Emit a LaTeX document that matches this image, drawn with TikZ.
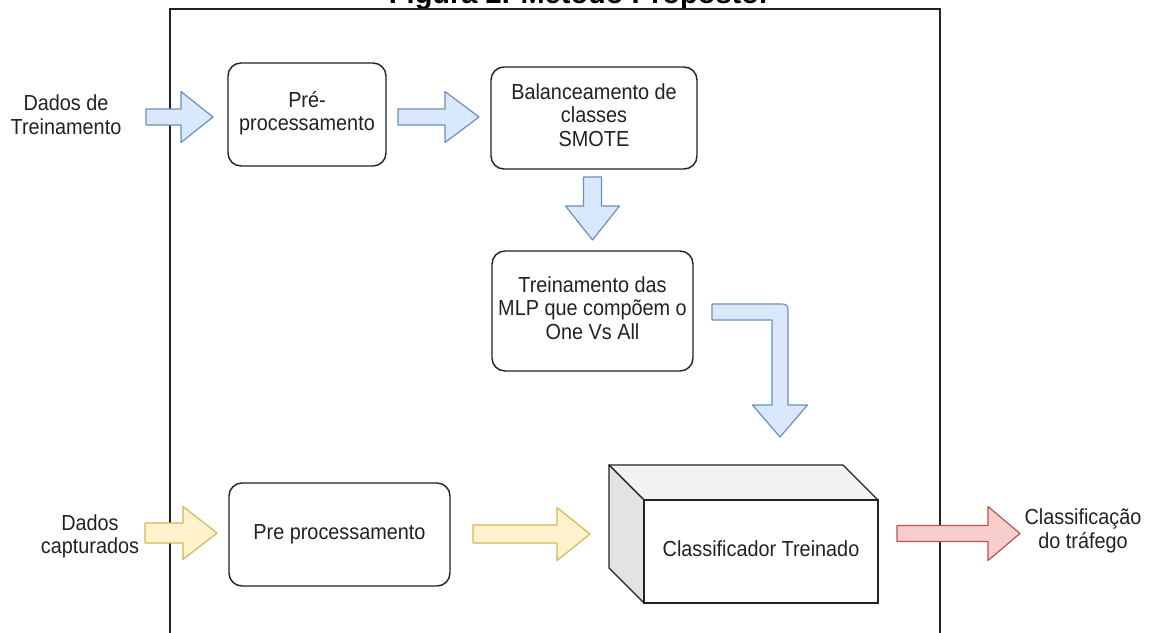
\documentclass[tikz,border=0pt]{standalone}
\usepackage{fontspec}
\setmainfont{Liberation Sans}
\newfontfamily\diagfont[FakeStretch=0.91]{Liberation Sans}
\definecolor{bluefill}{HTML}{DAE8FC}
\definecolor{bluedraw}{HTML}{6C8EBF}
\definecolor{yellowfill}{HTML}{FFF2CC}
\definecolor{yellowdraw}{HTML}{D6B656}
\definecolor{redfill}{HTML}{F8CECC}
\definecolor{reddraw}{HTML}{B85450}
\definecolor{inkgray}{HTML}{222222}
\definecolor{cubetop}{HTML}{F2F2F2}
\definecolor{cubeside}{HTML}{E3E3E3}
% horizontal block arrow: style, tail x, head-base x, tip x, centre y, shaft half, head half
\newcommand\harrowshape[7]{%
  \draw[#1] (#2,#5-#6) -- (#3,#5-#6) -- (#3,#5-#7) -- (#4,#5)
    -- (#3,#5+#7) -- (#3,#5+#6) -- (#2,#5+#6) -- cycle;}
% vertical block arrow: style, tail y, head-base y, tip y, centre x, shaft half, head half
\newcommand\varrowshape[7]{%
  \draw[#1] (#5-#6,#2) -- (#5-#6,#3) -- (#5-#7,#3) -- (#5,#4)
    -- (#5+#7,#3) -- (#5+#6,#3) -- (#5+#6,#2) -- cycle;}
\begin{document}
\begin{tikzpicture}[x=1pt,y=-1pt,
  txt/.style={font=\diagfont\fontsize{21.8}{23.5}\selectfont, text=inkgray, align=center, inner sep=0pt},
  procbox/.style={txt, draw=inkgray, line width=1.4pt, rounded corners=13pt, fill=white},
  bluearrow/.style={draw=bluedraw, fill=bluefill, line width=1.2pt, line join=round},
  yellowarrow/.style={draw=yellowdraw, fill=yellowfill, line width=1.2pt, line join=round},
  redarrow/.style={draw=reddraw, fill=redfill, line width=1.2pt, line join=round},
  cubeline/.style={draw=inkgray, line width=1.4pt, line join=round}]
\useasboundingbox (0,0) rectangle (1153,632);
\clip (0,0) rectangle (1153,632);

% caption, cut by the top edge
\node[font=\bfseries\fontsize{29}{30}\selectfont, text=black, anchor=base, inner sep=0pt] (title) at (578,3) {Figura 2. Método Proposto.};

% outer frame (open at the bottom)
\draw[line width=1.5pt, inkgray] (170,700) -- (170,9) -- (940,9) -- (940,700);

% outside labels
\node[txt] (dtrain) at (66,117.8) {\strut Dados de\\\strut Treinamento};
\node[txt] (dcapt) at (90,537.3) {\strut Dados\\\strut capturados};
\node[txt] (dout) at (1083,531.8) {\strut Classificação\\\strut do tráfego};

% process boxes
\node[procbox, minimum width=158pt, minimum height=103pt] (pre1) at (307,114.5) {\strut Pré-\\\strut processamento};
\node[procbox, minimum width=206pt, minimum height=102pt] (smote) at (594,118) {\strut Balanceamento de\\\strut classes\\\strut SMOTE};
\node[procbox, minimum width=201pt, minimum height=120pt] (mlp) at (592.5,311) {\strut Treinamento das\\\strut MLP que compõem o\\\strut One Vs All};
\node[procbox, minimum width=221pt, minimum height=103pt] (pre2) at (339.5,534.5) {\strut Pre processamento};

% trained classifier drawn as a cube
\filldraw[cubeline, fill=cubetop] (609,465) -- (843,465) -- (878,500) -- (644,500) -- cycle;
\filldraw[cubeline, fill=cubeside] (609,465) -- (644,500) -- (644,603) -- (609,568) -- cycle;
\node[txt, draw=inkgray, line width=1.4pt, fill=white, minimum width=234pt, minimum height=103pt] (cls) at (761,551.5) {\strut Classificador Treinado};

% training flow
\harrowshape{bluearrow}{146}{181}{213}{117}{8}{25.5}
\harrowshape{bluearrow}{398}{445}{479}{117}{8}{25.5}
\varrowshape{bluearrow}{177}{206}{240}{592.5}{9}{27}
\draw[bluearrow] (712,304) -- (778,304) .. controls (788,304) .. (788,314)
  -- (788,405) -- (807.5,405) -- (780,437) -- (752.5,405) -- (772,405)
  -- (772,320) -- (712,320) -- cycle;

% classification flow
\harrowshape{yellowarrow}{145}{183}{217}{533}{10}{26.5}
\harrowshape{yellowarrow}{473}{557}{590}{534}{9}{26.5}
\harrowshape{redarrow}{897}{988}{1020}{533.5}{8}{27}
\end{tikzpicture}
\end{document}
